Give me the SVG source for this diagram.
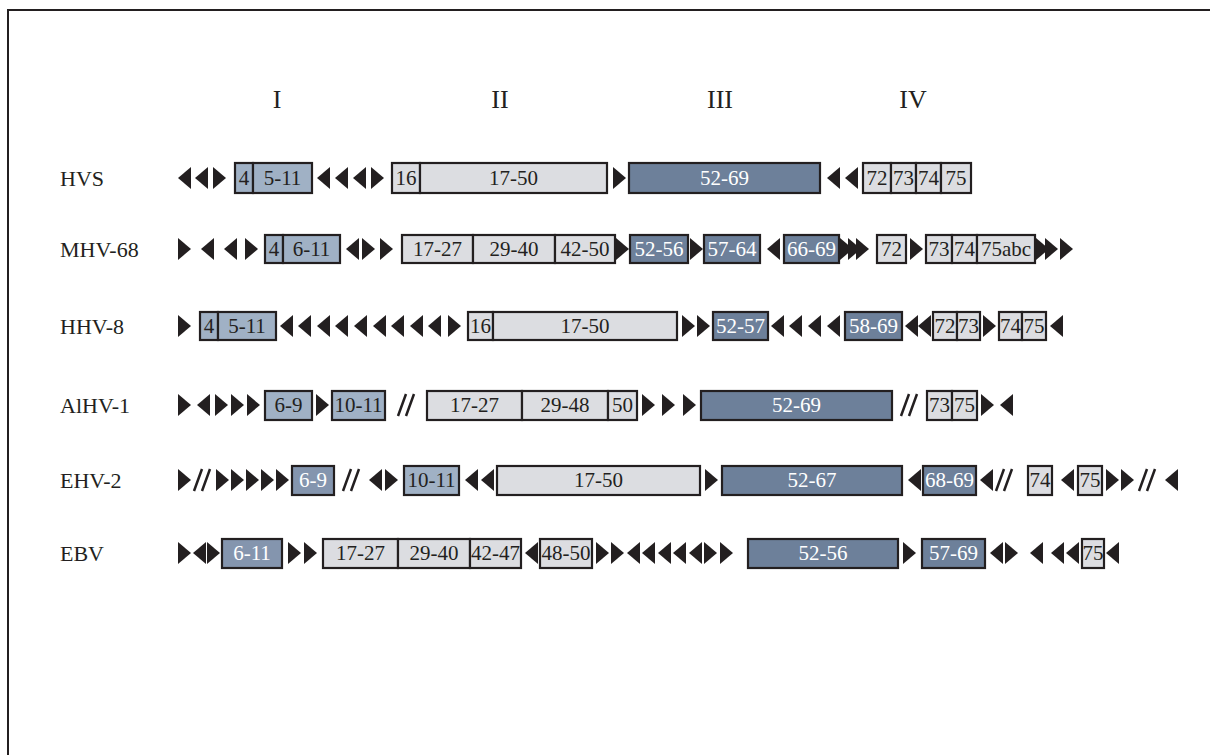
<svg xmlns="http://www.w3.org/2000/svg" xmlns:xlink="http://www.w3.org/1999/xlink" width="1210" height="755" viewBox="0 0 1210 755">
<style>
text{font-family:"Liberation Serif","Times New Roman",serif;fill:#231f20}
.hd{font-size:26px;text-anchor:middle}
.lab{font-size:22px}
.bt{font-size:21px;text-anchor:middle}
.w{fill:#ffffff}
.lg{fill:#dcdde1;stroke:#231f20;stroke-width:2.2}
.lb{fill:#a0b1c5;stroke:#231f20;stroke-width:2.2}
.mb{fill:#8495ae;stroke:#231f20;stroke-width:2.2}
.dk{fill:#6d809a;stroke:#231f20;stroke-width:2.2}
.tri{fill:#231f20}
.sl{stroke:#231f20;stroke-width:2.5;fill:none}
</style>
<defs>
<path id="tr" class="tri" d="M0,-11 L13,0 L0,11Z"/>
<path id="tl" class="tri" d="M13,-11 L0,0 L13,11Z"/>
<path id="sl" class="sl" d="M0,11 L8,-11 M8,11 L16,-11"/>
</defs>
<rect x="8" y="10" width="1215" height="760" fill="#ffffff" stroke="#231f20" stroke-width="2"/>
<g id="headers">
<text class="hd" x="277" y="108">I</text>
<text class="hd" x="500" y="108">II</text>
<text class="hd" x="720" y="108">III</text>
<text class="hd" x="913" y="108">IV</text>
</g>
<g id="connectors">
<!-- HVS -->
<use href="#tl" x="178" y="178"/><use href="#tl" x="195" y="178"/><use href="#tr" x="213" y="178"/>
<use href="#tl" x="317" y="178"/><use href="#tl" x="335" y="178"/><use href="#tl" x="353" y="178"/><use href="#tr" x="371" y="178"/>
<use href="#tr" x="613" y="178"/>
<use href="#tl" x="827" y="178"/><use href="#tl" x="845" y="178"/>
<!-- MHV-68 -->
<use href="#tr" x="178" y="249"/><use href="#tl" x="201" y="249"/><use href="#tl" x="224" y="249"/><use href="#tr" x="245" y="249"/>
<use href="#tl" x="346" y="249"/><use href="#tr" x="362" y="249"/><use href="#tr" x="380" y="249"/>
<use href="#tr" x="616" y="249"/>
<use href="#tr" x="690" y="249"/>
<use href="#tl" x="767" y="249"/>
<use href="#tr" x="840" y="249"/><use href="#tr" x="848" y="249"/><use href="#tr" x="856" y="249"/>
<use href="#tr" x="910" y="249"/>
<use href="#tr" x="1036" y="249"/><use href="#tr" x="1045" y="249"/><use href="#tr" x="1060" y="249"/>
<!-- HHV-8 -->
<use href="#tr" x="178" y="326"/>
<use href="#tl" x="280" y="326"/><use href="#tl" x="298" y="326"/><use href="#tl" x="317" y="326"/><use href="#tl" x="335" y="326"/><use href="#tl" x="354" y="326"/><use href="#tl" x="373" y="326"/><use href="#tl" x="391" y="326"/><use href="#tl" x="410" y="326"/><use href="#tl" x="428" y="326"/><use href="#tr" x="448" y="326"/>
<use href="#tr" x="682" y="326"/><use href="#tr" x="697" y="326"/>
<use href="#tl" x="771" y="326"/><use href="#tl" x="789" y="326"/><use href="#tl" x="808" y="326"/><use href="#tl" x="827" y="326"/>
<use href="#tl" x="905" y="326"/><use href="#tl" x="918" y="326"/>
<use href="#tr" x="983" y="326"/>
<use href="#tl" x="1050" y="326"/>
<!-- AlHV-1 -->
<use href="#tr" x="178" y="405"/><use href="#tl" x="197" y="405"/><use href="#tr" x="215" y="405"/><use href="#tr" x="231" y="405"/><use href="#tr" x="247" y="405"/>
<use href="#tr" x="316" y="405"/>
<use href="#sl" x="398" y="405"/>
<use href="#tr" x="642" y="405"/><use href="#tr" x="662" y="405"/><use href="#tr" x="683" y="405"/>
<use href="#sl" x="901" y="405"/>
<use href="#tr" x="981" y="405"/><use href="#tl" x="1000" y="405"/>
<!-- EHV-2 -->
<use href="#tr" x="178" y="480"/><use href="#sl" x="194" y="480"/>
<use href="#tr" x="216" y="480"/><use href="#tr" x="231" y="480"/><use href="#tr" x="246" y="480"/><use href="#tr" x="261" y="480"/><use href="#tr" x="276" y="480"/>
<use href="#sl" x="343" y="480"/>
<use href="#tl" x="369" y="480"/><use href="#tr" x="385" y="480"/>
<use href="#tl" x="465" y="480"/><use href="#tl" x="481" y="480"/>
<use href="#tr" x="705" y="480"/>
<use href="#tl" x="908" y="480"/>
<use href="#tl" x="980" y="480"/><use href="#sl" x="996" y="480"/>
<use href="#tl" x="1061" y="480"/>
<use href="#tr" x="1106" y="480"/><use href="#tr" x="1121" y="480"/><use href="#sl" x="1139" y="480"/><use href="#tl" x="1165" y="480"/>
<!-- EBV -->
<use href="#tr" x="178" y="553"/><use href="#tl" x="193" y="553"/><use href="#tr" x="207" y="553"/>
<use href="#tr" x="288" y="553"/><use href="#tr" x="304" y="553"/>
<use href="#tl" x="525" y="553"/>
<use href="#tr" x="596" y="553"/><use href="#tr" x="611" y="553"/><use href="#tl" x="627" y="553"/><use href="#tl" x="642" y="553"/><use href="#tl" x="658" y="553"/><use href="#tl" x="673" y="553"/><use href="#tl" x="689" y="553"/><use href="#tr" x="704" y="553"/><use href="#tr" x="720" y="553"/>
<use href="#tr" x="903" y="553"/>
<use href="#tl" x="990" y="553"/><use href="#tr" x="1005" y="553"/>
<use href="#tl" x="1030" y="553"/><use href="#tl" x="1051" y="553"/><use href="#tl" x="1066" y="553"/>
<use href="#tl" x="1106" y="553"/>
</g>
<g id="row-HVS">
<text class="lab" x="60" y="186">HVS</text>
<g id="hvs-4"><rect class="lb" x="235" y="163" width="18" height="30"/><text class="bt" x="244" y="185">4</text></g>
<g id="hvs-5-11"><rect class="lb" x="253" y="163" width="59" height="30"/><text class="bt" x="282.5" y="185">5-11</text></g>
<g id="hvs-16"><rect class="lg" x="392" y="163" width="28" height="30"/><text class="bt" x="406" y="185">16</text></g>
<g id="hvs-17-50"><rect class="lg" x="420" y="163" width="187" height="30"/><text class="bt" x="513.5" y="185">17-50</text></g>
<g id="hvs-52-69"><rect class="dk" x="629" y="163" width="191" height="30"/><text class="bt w" x="724.5" y="185">52-69</text></g>
<g id="hvs-72"><rect class="lg" x="863" y="163" width="28" height="30"/><text class="bt" x="877" y="185">72</text></g>
<g id="hvs-73"><rect class="lg" x="891" y="163" width="25" height="30"/><text class="bt" x="903.5" y="185">73</text></g>
<g id="hvs-74"><rect class="lg" x="916" y="163" width="25" height="30"/><text class="bt" x="928.5" y="185">74</text></g>
<g id="hvs-75"><rect class="lg" x="941" y="163" width="30" height="30"/><text class="bt" x="956" y="185">75</text></g>
</g>
<g id="row-MHV-68">
<text class="lab" x="60" y="257">MHV-68</text>
<g id="mhv-4"><rect class="lb" x="265" y="235" width="18" height="28"/><text class="bt" x="274" y="256">4</text></g>
<g id="mhv-6-11"><rect class="lb" x="283" y="235" width="57" height="28"/><text class="bt" x="311.5" y="256">6-11</text></g>
<g id="mhv-17-27"><rect class="lg" x="402" y="235" width="71" height="28"/><text class="bt" x="437.5" y="256">17-27</text></g>
<g id="mhv-29-40"><rect class="lg" x="473" y="235" width="82" height="28"/><text class="bt" x="514" y="256">29-40</text></g>
<g id="mhv-42-50"><rect class="lg" x="555" y="235" width="60" height="28"/><text class="bt" x="585" y="256">42-50</text></g>
<g id="mhv-52-56"><rect class="dk" x="630" y="235" width="58" height="28"/><text class="bt w" x="659" y="256">52-56</text></g>
<g id="mhv-57-64"><rect class="dk" x="704" y="235" width="56" height="28"/><text class="bt w" x="732" y="256">57-64</text></g>
<g id="mhv-66-69"><rect class="dk" x="784" y="235" width="55" height="28"/><text class="bt w" x="811.5" y="256">66-69</text></g>
<g id="mhv-72"><rect class="lg" x="877" y="235" width="29" height="28"/><text class="bt" x="891.5" y="256">72</text></g>
<g id="mhv-73"><rect class="lg" x="926" y="235" width="26" height="28"/><text class="bt" x="939" y="256">73</text></g>
<g id="mhv-74"><rect class="lg" x="952" y="235" width="25" height="28"/><text class="bt" x="964.5" y="256">74</text></g>
<g id="mhv-75abc"><rect class="lg" x="977" y="235" width="58" height="28"/><text class="bt" x="1006" y="256">75abc</text></g>
</g>
<g id="row-HHV-8">
<text class="lab" x="60" y="334">HHV-8</text>
<g id="hhv-4"><rect class="lb" x="200" y="312" width="18" height="28"/><text class="bt" x="209" y="333">4</text></g>
<g id="hhv-5-11"><rect class="lb" x="218" y="312" width="58" height="28"/><text class="bt" x="247" y="333">5-11</text></g>
<g id="hhv-16"><rect class="lg" x="468" y="312" width="25" height="28"/><text class="bt" x="480.5" y="333">16</text></g>
<g id="hhv-17-50"><rect class="lg" x="493" y="312" width="184" height="28"/><text class="bt" x="585" y="333">17-50</text></g>
<g id="hhv-52-57"><rect class="dk" x="713" y="312" width="55" height="28"/><text class="bt w" x="740.5" y="333">52-57</text></g>
<g id="hhv-58-69"><rect class="dk" x="845" y="312" width="57" height="28"/><text class="bt w" x="873.5" y="333">58-69</text></g>
<g id="hhv-72"><rect class="lg" x="933" y="312" width="24" height="28"/><text class="bt" x="945" y="333">72</text></g>
<g id="hhv-73"><rect class="lg" x="957" y="312" width="23" height="28"/><text class="bt" x="968.5" y="333">73</text></g>
<g id="hhv-74"><rect class="lg" x="999" y="312" width="23" height="28"/><text class="bt" x="1010.5" y="333">74</text></g>
<g id="hhv-75"><rect class="lg" x="1022" y="312" width="24" height="28"/><text class="bt" x="1034" y="333">75</text></g>
</g>
<g id="row-AlHV-1">
<text class="lab" x="60" y="413">AlHV-1</text>
<g id="alhv-6-9"><rect class="lb" x="265" y="391" width="47" height="29"/><text class="bt" x="288.5" y="412">6-9</text></g>
<g id="alhv-10-11"><rect class="lb" x="332" y="391" width="53" height="29"/><text class="bt" x="358.5" y="412">10-11</text></g>
<g id="alhv-17-27"><rect class="lg" x="427" y="391" width="95" height="29"/><text class="bt" x="474.5" y="412">17-27</text></g>
<g id="alhv-29-48"><rect class="lg" x="522" y="391" width="86" height="29"/><text class="bt" x="565" y="412">29-48</text></g>
<g id="alhv-50"><rect class="lg" x="608" y="391" width="29" height="29"/><text class="bt" x="622.5" y="412">50</text></g>
<g id="alhv-52-69"><rect class="dk" x="701" y="391" width="191" height="29"/><text class="bt w" x="796.5" y="412">52-69</text></g>
<g id="alhv-73"><rect class="lg" x="927" y="391" width="25" height="29"/><text class="bt" x="939.5" y="412">73</text></g>
<g id="alhv-75"><rect class="lg" x="952" y="391" width="25" height="29"/><text class="bt" x="964.5" y="412">75</text></g>
</g>
<g id="row-EHV-2">
<text class="lab" x="60" y="488">EHV-2</text>
<g id="ehv-6-9"><rect class="mb" x="292" y="466" width="42" height="29"/><text class="bt w" x="313" y="487">6-9</text></g>
<g id="ehv-10-11"><rect class="lb" x="404" y="466" width="55" height="29"/><text class="bt" x="431.5" y="487">10-11</text></g>
<g id="ehv-17-50"><rect class="lg" x="497" y="466" width="203" height="29"/><text class="bt" x="598.5" y="487">17-50</text></g>
<g id="ehv-52-67"><rect class="dk" x="722" y="466" width="180" height="29"/><text class="bt w" x="812" y="487">52-67</text></g>
<g id="ehv-68-69"><rect class="dk" x="923" y="466" width="53" height="29"/><text class="bt w" x="949.5" y="487">68-69</text></g>
<g id="ehv-74"><rect class="lg" x="1028" y="466" width="24" height="29"/><text class="bt" x="1040" y="487">74</text></g>
<g id="ehv-75"><rect class="lg" x="1078" y="466" width="24" height="29"/><text class="bt" x="1090" y="487">75</text></g>
</g>
<g id="row-EBV">
<text class="lab" x="60" y="561">EBV</text>
<g id="ebv-6-11"><rect class="mb" x="222" y="539" width="60" height="29"/><text class="bt w" x="252" y="560">6-11</text></g>
<g id="ebv-17-27"><rect class="lg" x="323" y="539" width="75" height="29"/><text class="bt" x="360.5" y="560">17-27</text></g>
<g id="ebv-29-40"><rect class="lg" x="398" y="539" width="72" height="29"/><text class="bt" x="434" y="560">29-40</text></g>
<g id="ebv-42-47"><rect class="lg" x="470" y="539" width="51" height="29"/><text class="bt" x="495.5" y="560">42-47</text></g>
<g id="ebv-48-50"><rect class="lg" x="540" y="539" width="52" height="29"/><text class="bt" x="566" y="560">48-50</text></g>
<g id="ebv-52-56"><rect class="dk" x="748" y="539" width="150" height="29"/><text class="bt w" x="823" y="560">52-56</text></g>
<g id="ebv-57-69"><rect class="dk" x="922" y="539" width="63" height="29"/><text class="bt w" x="953.5" y="560">57-69</text></g>
<g id="ebv-75"><rect class="lg" x="1082" y="539" width="22" height="29"/><text class="bt" x="1093" y="560">75</text></g>
</g>
</svg>
